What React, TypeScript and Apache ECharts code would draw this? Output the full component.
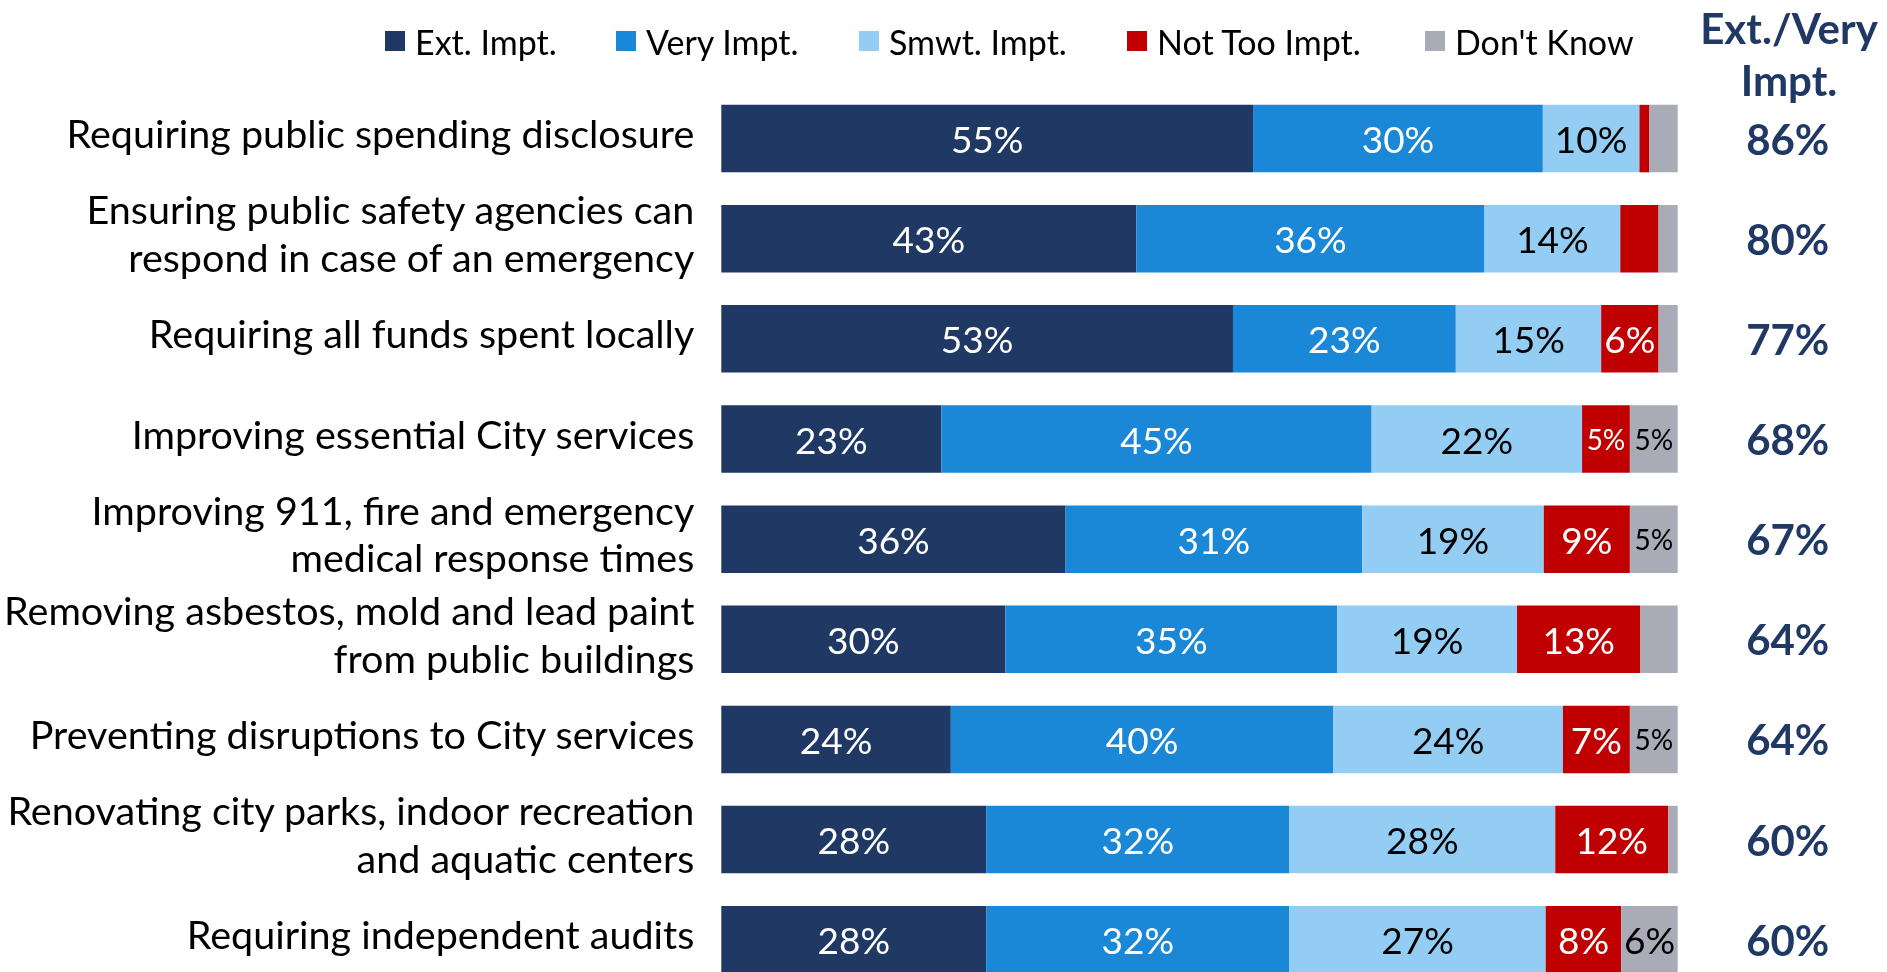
import React, { useEffect, useRef } from "react";
import * as echarts from "echarts";

const categories = [
  "Requiring public spending disclosure",
  "Ensuring public safety agencies can\nrespond in case of an emergency",
  "Requiring all funds spent locally",
  "Improving essential City services",
  "Improving 911, fire and emergency\nmedical response times",
  "Removing asbestos, mold and lead paint\nfrom public buildings",
  "Preventing disruptions to City services",
  "Renovating city parks, indoor recreation\nand aquatic centers",
  "Requiring independent audits",
];

const seriesNames = ["Ext. Impt.", "Very Impt.", "Smwt. Impt.", "Not Too Impt.", "Don't Know"];

// segment widths (percent)
const extImpt = [55.6, 43.4, 53.5, 23.0, 36.0, 29.7, 24.0, 27.7, 27.7];
const veryImpt = [30.3, 36.4, 23.3, 45.0, 31.0, 34.7, 40.0, 31.7, 31.7];
const smwtImpt = [10.1, 14.2, 15.2, 22.0, 19.0, 18.8, 24.0, 27.8, 26.8];
const notTooImpt = [1.0, 4.0, 6.0, 5.0, 9.0, 12.9, 7.0, 11.8, 7.9];
const dontKnow = [3.0, 2.0, 2.0, 5.0, 5.0, 3.9, 5.0, 1.0, 5.9];

// printed labels ("" = no label shown)
const extLabels = ["55%", "43%", "53%", "23%", "36%", "30%", "24%", "28%", "28%"];
const veryLabels = ["30%", "36%", "23%", "45%", "31%", "35%", "40%", "32%", "32%"];
const smwtLabels = ["10%", "14%", "15%", "22%", "19%", "19%", "24%", "28%", "27%"];
const notTooLabels = ["", "", "6%", "5%", "9%", "13%", "7%", "12%", "8%"];
const dontKnowLabels = ["", "", "", "5%", "5%", "", "5%", "", "6%"];

// Ext./Very Impt. totals
const extVeryTotals = [86, 80, 77, 68, 67, 64, 64, 60, 60];

const COLORS = ["#1F3864", "#1A88D6", "#94CDF3", "#C00000", "#A9ABB7"];
const LABEL_COLORS = ["#FFFFFF", "#FFFFFF", "#000000", "#FFFFFF", "#000000"];
const LEGEND_LEFT = [380, 611, 854, 1122, 1420];
const FONT = "Lato, 'Open Sans', sans-serif";

export default function App() {
  const ref = useRef<HTMLDivElement>(null);

  useEffect(() => {
    if (!ref.current) return;
    const chart = echarts.init(ref.current, null, { renderer: "svg" });

    const values = [extImpt, veryImpt, smwtImpt, notTooImpt, dontKnow];
    const labels = [extLabels, veryLabels, smwtLabels, notTooLabels, dontKnowLabels];

    const series = seriesNames.map((name, s) => ({
      name,
      type: "bar",
      stack: "total",
      barWidth: 67.5,
      xAxisIndex: 0,
      yAxisIndex: 0,
      itemStyle: { color: COLORS[s] },
      emphasis: { disabled: true },
      data: values[s].map((v, i) => {
        const txt = labels[s][i];
        return {
          value: v,
          label: {
            show: txt !== "",
            position: "inside",
            formatter: () => txt,
            color: LABEL_COLORS[s],
            fontFamily: FONT,
            fontSize: v <= 5.2 ? 28 : 37,
          },
        };
      }),
    }));

    const legends = seriesNames.map((name, s) => ({
      data: [name],
      left: LEGEND_LEFT[s],
      top: 19,
      icon: "rect",
      itemWidth: 20,
      itemHeight: 20,
      selectedMode: false,
      textStyle: {
        fontFamily: FONT,
        fontSize: 34,
        color: "#000000",
        padding: [0, 0, 0, 5],
      },
    }));

    const hiddenLine = { show: false };

    chart.setOption({
      animation: false,
      textStyle: { fontFamily: FONT },
      legend: legends,
      grid: [
        { left: 721.3, right: 209.3, top: 88.5, height: 901.3, outerBoundsMode: "none" },
        { left: 721.3, right: 209.3, top: 82.5, height: 901.3, outerBoundsMode: "none" },
      ],
      xAxis: [
        { type: "value", gridIndex: 0, min: 0, max: 100, show: false },
        { type: "value", gridIndex: 1, min: 0, max: 100, show: false },
      ],
      yAxis: [
        {
          type: "category",
          gridIndex: 0,
          data: categories,
          inverse: true,
          axisLine: hiddenLine,
          axisTick: hiddenLine,
          axisLabel: { show: false },
        },
        {
          type: "category",
          gridIndex: 0,
          data: categories,
          inverse: true,
          position: "right",
          axisLine: hiddenLine,
          axisTick: hiddenLine,
          axisLabel: {
            interval: 0,
            margin: 110,
            align: "center",
            fontFamily: FONT,
            fontSize: 42,
            fontWeight: "bold",
            color: "#1F3864",
            formatter: (_v: string, i: number) => extVeryTotals[i] + "%",
          },
        },
        {
          type: "category",
          gridIndex: 1,
          data: categories,
          inverse: true,
          position: "left",
          axisLine: hiddenLine,
          axisTick: hiddenLine,
          axisLabel: {
            interval: 0,
            margin: 27,
            fontFamily: FONT,
            fontSize: 39.5,
            lineHeight: 47.5,
            color: "#000000",
            align: "right",
          },
        },
      ],
      graphic: [
        {
          type: "text",
          x: 1789,
          y: 54,
          style: {
            text: "Ext./Very\nImpt.",
            fontFamily: FONT,
            fontSize: 42,
            fontWeight: "bold",
            lineHeight: 52,
            fill: "#1F3864",
            textAlign: "center",
            textVerticalAlign: "middle",
          },
        },
      ],
      series,
    });

    return () => chart.dispose();
  }, []);

  return (
    <div
      ref={ref}
      style={{ position: "fixed", left: 0, top: 0, width: 1887, height: 1000 }}
    />
  );
}
